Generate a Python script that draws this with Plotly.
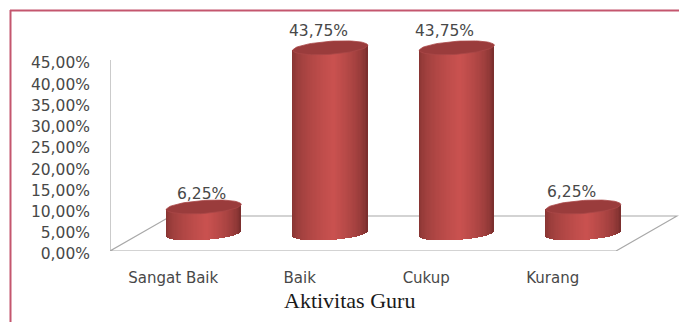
import numpy as np
import plotly.graph_objects as go

categories = ["Sangat Baik", "Baik", "Cukup", "Kurang"]
values = [6.25, 43.75, 43.75, 6.25]
value_labels = ["6,25%", "43,75%", "43,75%", "6,25%"]
label_nudge = [-2, -12, -12, -12]
label_lift = [13, 17, 17, 15]
y_ticks = [0, 5, 10, 15, 20, 25, 30, 35, 40, 45]
y_tick_labels = ["0,00%", "5,00%", "10,00%", "15,00%", "20,00%",
                 "25,00%", "30,00%", "35,00%", "40,00%", "45,00%"]

W, H = 679, 322
LEFT, FRONT_RIGHT, TICK_TOP, BOTTOM = 110, 616, 60, 251
X_UNIT = (FRONT_RIGHT - LEFT) / 4      # pixels per category
Y_UNIT = (BOTTOM - TICK_TOP) / 45      # pixels per percentage point

DEPTH_X = 61 / X_UNIT
DEPTH_Y = 35 / Y_UNIT
RADIUS = 37.5 / X_UNIT
CAP_RY = 6.5 / Y_UNIT
TILT = 2.5 / Y_UNIT                    # rise of an end cap at its right edge
N_SLICES = 60

AXIS_GREY = "#a8a8a8"
TEXT_GREY = "#484848"
FRAME = "#c4566e"


def body_colour(u):
    """Horizontal shading across a cylinder, u running from -1 to 1."""
    dark_l, dark_r, light = np.array([128, 50, 48]), np.array([112, 42, 41]), np.array([202, 82, 80])
    peak = 0.1
    if u < peak:
        t = ((u + 1) / (peak + 1)) ** 0.5
        c = dark_l + (light - dark_l) * t
    else:
        t = ((1 - u) / (1 - peak)) ** 0.5
        c = dark_r + (light - dark_r) * t
    return "rgb({},{},{})".format(*c.astype(int))


fig = go.Figure()

# floor of the chart box and the value wall, kept beneath the cylinders
floor_x = [-0.5, 3.5, 3.5 + DEPTH_X, -0.5 + DEPTH_X]
floor_y = [0, 0, DEPTH_Y, DEPTH_Y]
floor_path = "M " + " L ".join(f"{a} {b}" for a, b in zip(floor_x, floor_y)) + " Z"
fig.add_shape(type="path", path=floor_path, xref="x", yref="y", layer="below",
              line=dict(color=AXIS_GREY, width=1.2))
fig.add_shape(type="line", xref="x", yref="y", x0=-0.5, x1=-0.5, y0=0, y1=max(y_ticks),
              layer="below", line=dict(color=AXIS_GREY, width=1.2))

# each cylinder: shaded body slices, then the darker top cap
theta = np.linspace(0, 2 * np.pi, 73)
for i, value in enumerate(values):
    cx = i + DEPTH_X / 2
    base = DEPTH_Y / 2
    u = (np.arange(N_SLICES) + 0.5) / N_SLICES * 2 - 1
    step = 2 * RADIUS / N_SLICES
    curve = CAP_RY * np.sqrt(1 - u ** 2)
    bottom = base - curve + TILT * u
    top = base + value + TILT * u
    fig.add_trace(go.Bar(
        x=cx + u * RADIUS, y=top - bottom, base=bottom, width=step * 1.25,
        marker=dict(color=[body_colour(v) for v in u], line=dict(width=0)),
        hoverinfo="skip", showlegend=False,
    ))
    fig.add_trace(go.Scatter(
        x=cx + RADIUS * np.cos(theta),
        y=base + value + CAP_RY * np.sin(theta) + TILT * np.cos(theta),
        mode="lines", fill="toself", fillcolor="#9a3c3c",
        line=dict(color="#aa4847", width=0.8),
        hoverinfo="skip", showlegend=False,
    ))
    fig.add_annotation(
        x=cx, y=base + value, text=value_labels[i], showarrow=False,
        xshift=label_nudge[i], yshift=label_lift[i], yanchor="middle",
        font=dict(family="DejaVu Sans", size=15.5, color=TEXT_GREY),
    )

# paper coordinates for the pieces that sit outside the plotting area
px = lambda v: (v - LEFT) / (W - LEFT)
py = lambda v: (BOTTOM - v) / BOTTOM

fig.add_annotation(
    xref="paper", yref="paper", x=px(349), y=py(300),
    text="Aktivitas Guru", showarrow=False, yanchor="middle",
    font=dict(family="Liberation Serif", size=22, color="#1a1a1a"),
)

# frame around the chart: top and left edges only
frame_style = dict(type="line", xref="paper", yref="paper", line=dict(color=FRAME, width=2))
fig.add_shape(x0=px(10), x1=px(679), y0=py(10.5), y1=py(10.5), **frame_style)
fig.add_shape(x0=px(10.5), x1=px(10.5), y0=py(10), y1=py(322), **frame_style)

fig.update_layout(
    width=W, height=H, autosize=False,
    margin=dict(l=LEFT, r=0, t=0, b=H - BOTTOM),
    paper_bgcolor="white", plot_bgcolor="rgba(0,0,0,0)",
    barmode="overlay", showlegend=False, bargap=0,
)
fig.update_xaxes(
    range=[-0.5, -0.5 + (W - LEFT) / X_UNIT], tickmode="array",
    tickvals=list(range(len(categories))), ticktext=categories,
    showgrid=False, zeroline=False, showline=False, ticks="", ticklabelstandoff=16,
    tickfont=dict(family="DejaVu Sans", size=15, color=TEXT_GREY),
)
fig.update_yaxes(
    range=[0, BOTTOM / Y_UNIT], tickmode="array", tickvals=y_ticks, ticktext=y_tick_labels,
    showgrid=False, zeroline=False, showline=False, ticks="", ticklabelstandoff=19,
    ticklabelshift=3,
    tickfont=dict(family="DejaVu Sans", size=15.5, color=TEXT_GREY),
)

fig.write_html("out.html")
